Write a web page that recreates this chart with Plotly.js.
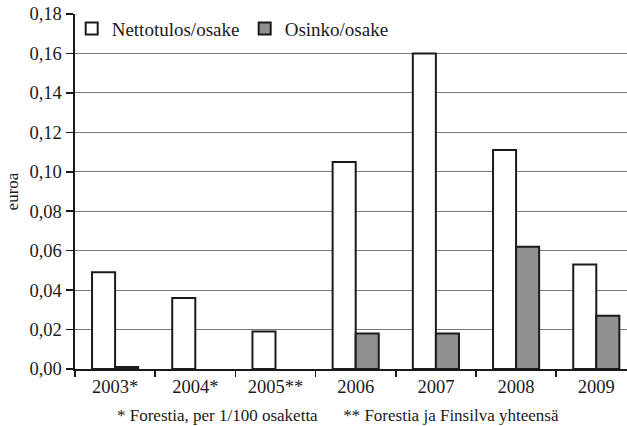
<!DOCTYPE html>
<html>
<head>
<meta charset="utf-8">
<script src="https://cdn.plot.ly/plotly-3.0.1.min.js"></script>
<style>html,body{margin:0;padding:0;background:#fff;}#chart{width:627px;height:426px;}</style>
</head>
<body>
<div id="chart"></div>
<script>
const categories = ["2003*", "2004*", "2005**", "2006", "2007", "2008", "2009"];
const nettotulos = [0.049, 0.036, 0.019, 0.105, 0.160, 0.111, 0.053];
const osinko = [0.001, null, null, 0.018, 0.018, 0.062, 0.027];
const seriesNames = ["Nettotulos/osake", "Osinko/osake"];
const footnote = "* Forestia, per 1/100 osaketta\u00a0\u00a0\u00a0\u00a0\u00a0\u00a0** Forestia ja Finsilva yhteensä";
const yTitle = "euroa";

const font = "'Liberation Serif', serif";
const traces = [
  {type: "bar", name: seriesNames[0], x: categories, y: nettotulos,
   marker: {color: "#ffffff", line: {color: "#1a1a1a", width: 2}}},
  {type: "bar", name: seriesNames[1], x: categories, y: osinko,
   marker: {color: "#8f9092", line: {color: "#1a1a1a", width: 2}}}
];
const layout = {
  width: 627, height: 426,
  margin: {l: 75, r: 0, t: 14, b: 57},
  paper_bgcolor: "#fff", plot_bgcolor: "#fff",
  separators: ", ",
  font: {family: font, size: 18.5, color: "#1a1a1a"},
  barmode: "group", bargap: 0.425, bargroupgap: 0,
  showlegend: true,
  legend: {orientation: "h", x: -0.006, xanchor: "left", y: 1.012, yanchor: "top",
           entrywidth: 128, entrywidthmode: "pixels",
           font: {family: font, size: 19, color: "#1a1a1a"}, bgcolor: "rgba(0,0,0,0)",
           traceorder: "normal", itemclick: false},
  xaxis: {type: "category", range: [-0.5, 6.383], tickson: "boundaries",
          ticks: "outside", ticklen: 6, tickwidth: 1.5, tickcolor: "#1a1a1a",
          showline: true, linecolor: "#1a1a1a", linewidth: 2,
          showgrid: false, tickfont: {family: font, size: 18.5}, fixedrange: true},
  yaxis: {range: [0, 0.18], dtick: 0.02, tick0: 0, tickformat: ".2f",
          ticks: "outside", ticklen: 7, tickwidth: 1.5, tickcolor: "#1a1a1a",
          showline: true, linecolor: "#1a1a1a", linewidth: 2.5,
          showgrid: true, gridcolor: "#7a7a7a", gridwidth: 1, zeroline: false,
          tickfont: {family: font, size: 18.5},
          title: {text: yTitle, font: {family: font, size: 17}, standoff: 7}, fixedrange: true},
  annotations: [
    {text: footnote, xref: "paper", yref: "paper", x: 0.477, y: -0.1296, xanchor: "center", yanchor: "middle",
     showarrow: false, font: {family: font, size: 17, color: "#1a1a1a"}}
  ]
};
Plotly.newPlot("chart", traces, layout, {displayModeBar: false, staticPlot: true});
</script>
</body>
</html>
